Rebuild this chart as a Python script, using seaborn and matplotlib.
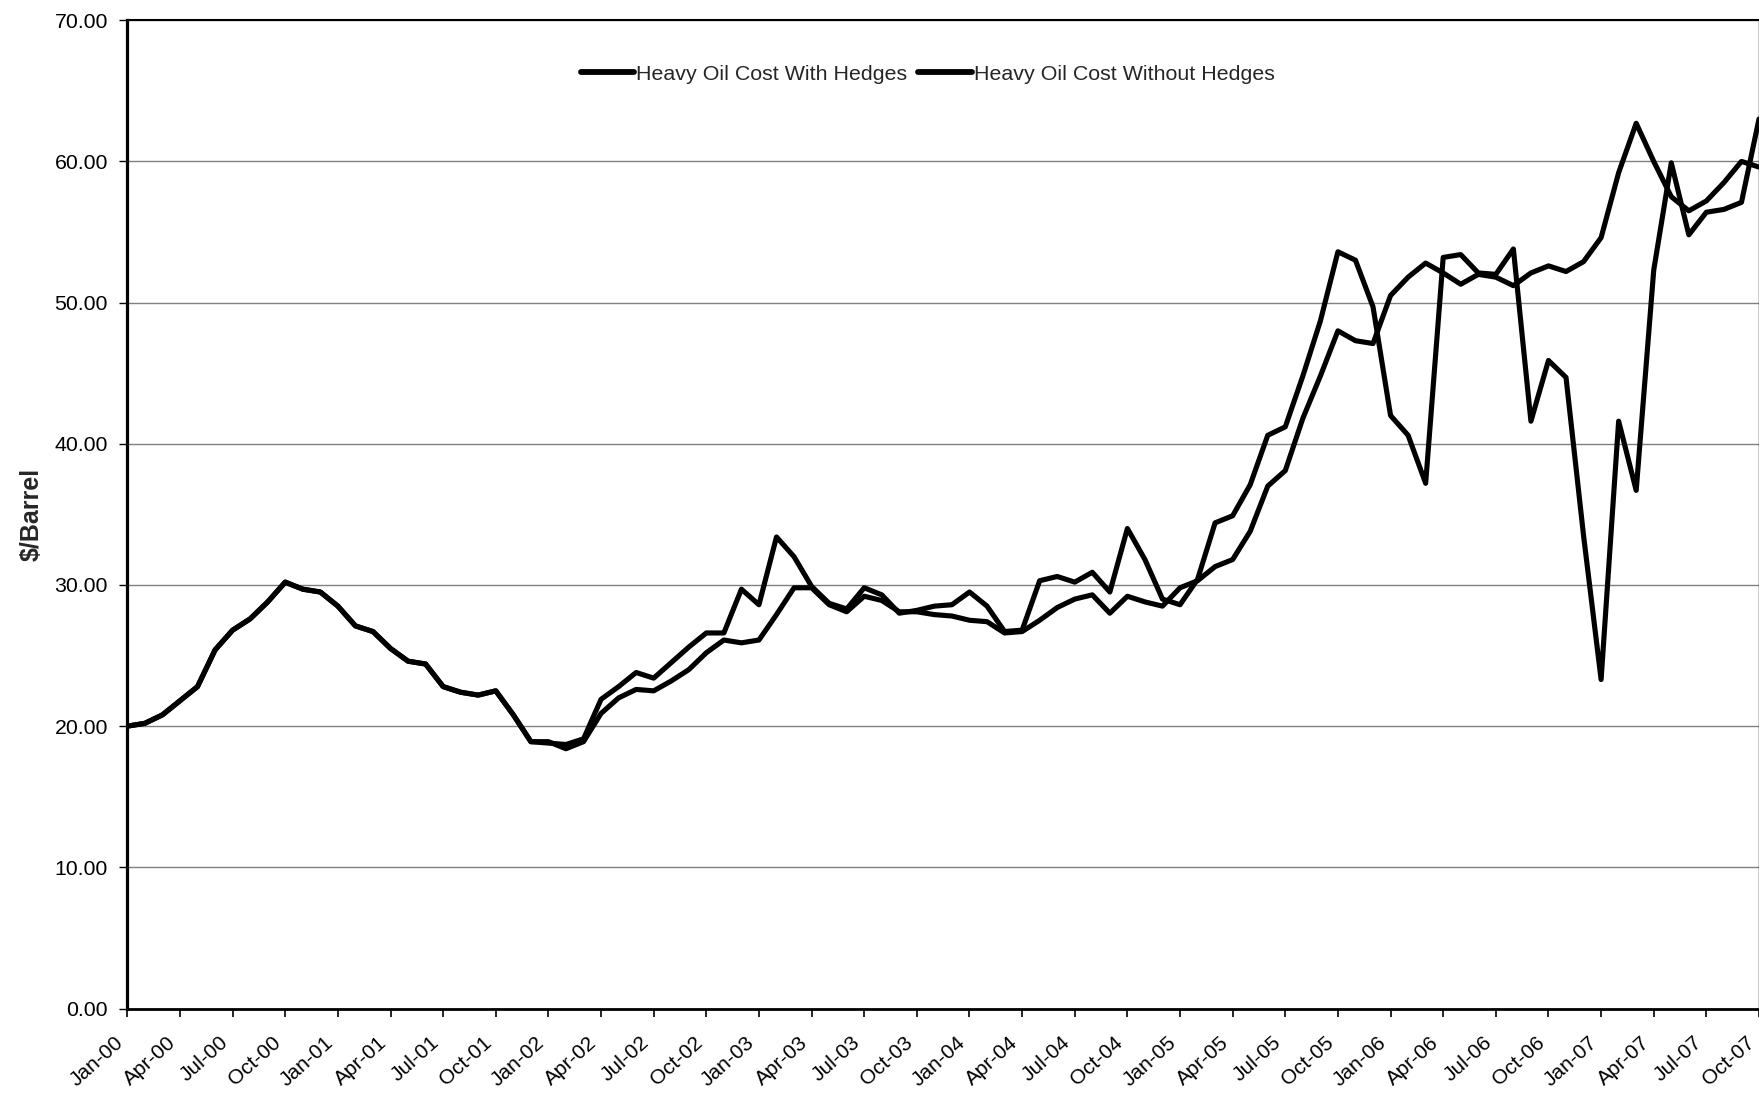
import numpy as np
import pandas as pd
import matplotlib
matplotlib.use("Agg")
import matplotlib.pyplot as plt
from matplotlib.ticker import FixedLocator, FormatStrFormatter
from matplotlib.transforms import ScaledTranslation
import seaborn as sns

# Monthly heavy oil cost, Jan-2000 .. Oct-2007 ($/barrel)
with_hedges = [
    20.0, 20.2, 20.8, 21.8, 22.8, 25.4, 26.8, 27.6, 28.8, 30.2, 29.7, 29.5,
    28.5, 27.1, 26.7, 25.5, 24.6, 24.4, 22.8, 22.4, 22.2, 22.5, 20.8, 18.9,
    18.9, 18.4, 18.9, 20.9, 22.0, 22.6, 22.5, 23.2, 24.0, 25.2, 26.1, 25.9,
    26.1, 27.9, 29.8, 29.8, 28.6, 28.1, 29.2, 28.9, 28.1, 28.1, 27.9, 27.8,
    27.5, 27.4, 26.6, 26.7, 27.5, 28.4, 29.0, 29.3, 28.0, 29.2, 28.8, 28.5,
    29.8, 30.3, 31.3, 31.8, 33.8, 37.0, 38.1, 41.8, 44.8, 48.0, 47.3, 47.1,
    50.5, 51.8, 52.8, 52.1, 51.3, 52.0, 51.8, 51.2, 52.1, 52.6, 52.2, 52.9,
    54.6, 59.2, 62.7, 60.0, 57.5, 56.5, 57.2, 58.5, 60.0, 59.6,
]
without_hedges = [
    20.0, 20.2, 20.8, 21.8, 22.8, 25.4, 26.8, 27.6, 28.8, 30.2, 29.7, 29.5,
    28.5, 27.1, 26.7, 25.5, 24.6, 24.4, 22.8, 22.4, 22.2, 22.5, 20.8, 18.9,
    18.8, 18.7, 19.1, 21.9, 22.8, 23.8, 23.4, 24.5, 25.6, 26.6, 26.6, 29.7,
    28.6, 33.4, 32.0, 29.9, 28.7, 28.3, 29.8, 29.3, 28.0, 28.2, 28.5, 28.6,
    29.5, 28.5, 26.7, 26.8, 30.3, 30.6, 30.2, 30.9, 29.5, 34.0, 31.8, 29.0,
    28.6, 30.4, 34.4, 34.9, 37.1, 40.6, 41.2, 44.8, 48.7, 53.6, 53.0, 49.7,
    42.0, 40.6, 37.2, 53.2, 53.4, 52.1, 52.0, 53.8, 41.6, 45.9, 44.7, 33.5,
    23.3, 41.6, 36.7, 52.3, 59.9, 54.8, 56.4, 56.6, 57.1, 63.0,
]
tick_labels = [
    "Jan-00", "Apr-00", "Jul-00", "Oct-00", "Jan-01", "Apr-01", "Jul-01", "Oct-01",
    "Jan-02", "Apr-02", "Jul-02", "Oct-02", "Jan-03", "Apr-03", "Jul-03", "Oct-03",
    "Jan-04", "Apr-04", "Jul-04", "Oct-04", "Jan-05", "Apr-05", "Jul-05", "Oct-05",
    "Jan-06", "Apr-06", "Jul-06", "Oct-06", "Jan-07", "Apr-07", "Jul-07", "Oct-07",
]
series_names = ["Heavy Oil Cost With Hedges", "Heavy Oil Cost Without Hedges"]

months = np.arange(len(with_hedges))
df = pd.concat([
    pd.DataFrame({"month": months, "cost": with_hedges, "series": series_names[0]}),
    pd.DataFrame({"month": months, "cost": without_hedges, "series": series_names[1]}),
], ignore_index=True)

sns.set_style("white")
plt.rcParams["font.family"] = ["Liberation Sans", "DejaVu Sans"]

fig = plt.figure(figsize=(17.59, 10.93), dpi=100)
ax = fig.add_axes([0.0724, 0.0773, 0.9276, 0.9042])

sns.lineplot(
    data=df, x="month", y="cost", hue="series", hue_order=series_names,
    palette={series_names[0]: "black", series_names[1]: "black"},
    linewidth=3.7, sort=False, ax=ax, legend=True,
)

ax.set_xlim(0, 93)
ax.set_ylim(0, 70)
ax.set_axisbelow(True)

# Horizontal grid only
ax.yaxis.set_major_locator(FixedLocator(np.arange(0, 71, 10)))
ax.yaxis.set_major_formatter(FormatStrFormatter("%.2f"))
ax.yaxis.grid(True, color="#808080", linewidth=1.0)
ax.xaxis.grid(False)

ax.set_xticks(np.arange(0, 94, 3))
ax.set_xticklabels(tick_labels, rotation=42, ha="right", va="center",
                   rotation_mode="anchor", fontsize=15)
ax.tick_params(axis="x", direction="out", length=6, width=1.2, pad=16.5,
               bottom=True, colors="black")
ax.tick_params(axis="y", direction="out", length=6, width=1.0, pad=8,
               left=True, labelsize=15.3, colors="black")
shift = ScaledTranslation(-5 / 72, 0, fig.dpi_scale_trans)
for lab in ax.get_xticklabels():
    lab.set_transform(lab.get_transform() + shift)

for side, lw in [("left", 2.3), ("bottom", 2.0), ("top", 1.5), ("right", 1.0)]:
    ax.spines[side].set_visible(True)
    ax.spines[side].set_color("black")
    ax.spines[side].set_linewidth(lw)

ax.set_xlabel("")
ax.set_ylabel("$/Barrel", fontsize=18, fontweight="bold")
ax.yaxis.set_label_coords(-0.051, 0.5)

handles, labels = ax.get_legend_handles_labels()
for h in handles:
    h.set_linewidth(4.2)
ax.legend(handles, labels, loc="center", bbox_to_anchor=(0.5274, 0.932),
          bbox_transform=fig.transFigure, ncol=2, frameon=False,
          fontsize=15.4, handlelength=2.5, handletextpad=0.1,
          columnspacing=0.5)

fig.savefig("out.png", dpi=100)
